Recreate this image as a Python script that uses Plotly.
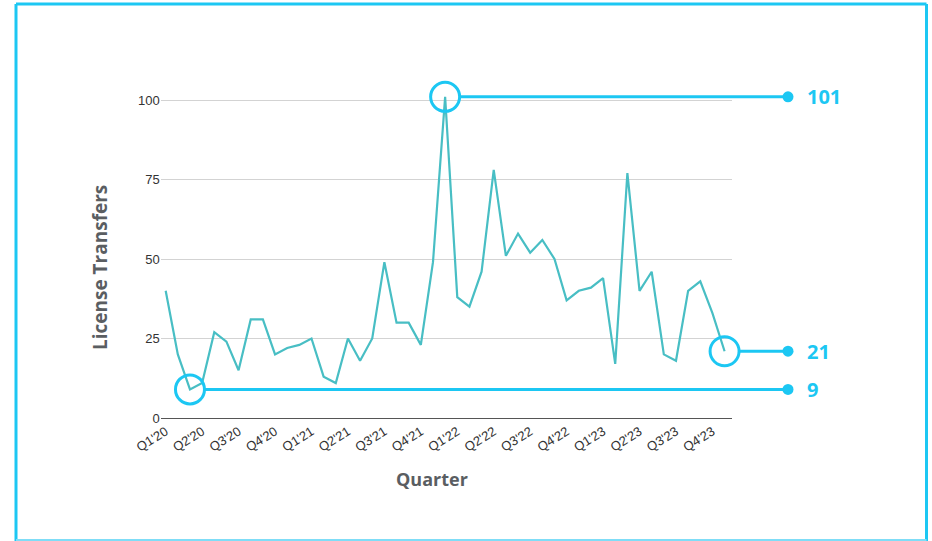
import plotly.graph_objects as go

# ---------------- data ----------------
quarters = ["Q1'20", "Q2'20", "Q3'20", "Q4'20", "Q1'21", "Q2'21", "Q3'21", "Q4'21",
            "Q1'22", "Q2'22", "Q3'22", "Q4'22", "Q1'23", "Q2'23", "Q3'23", "Q4'23"]
month_names = ["Jan", "Feb", "Mar", "Apr", "May", "Jun", "Jul", "Aug", "Sep", "Oct", "Nov", "Dec"]
years = ["20", "21", "22", "23"]
months = [f"{m}'{y}" for y in years for m in month_names][:47]

transfers = [40, 20, 9, 11, 27, 24, 15, 31, 31, 20, 22, 23,
             25, 13, 11, 25, 18, 25, 49, 30, 30, 23, 49, 101,
             38, 35, 46, 78, 51, 58, 52, 56, 50, 37, 40, 41,
             44, 17, 77, 40, 46, 20, 18, 40, 43, 33, 21]

# highlighted points: minimum, maximum, latest
idx_min = transfers.index(min(transfers))
idx_max = transfers.index(max(transfers))
idx_last = len(transfers) - 1
callouts = [idx_max, idx_last, idx_min]

# ---------------- layout geometry (pixels of a 932x541 page) ----------------
W, H = 932, 541
PX_LEFT, PX_RIGHT = 160.7, 731.7
PX_TOP, PX_BOTTOM = 68.2, 418.0
X_MIN = -0.41
UNIT = 12.15  # px per month
X_MAX = X_MIN + (PX_RIGHT - PX_LEFT) / UNIT
X2_MAX = X_MIN + (W - PX_LEFT) / UNIT
Y_RANGE = [0, 110]

CIRCLE_R = 1.15          # in month units
CALLOUT_END = X_MIN + (788 - PX_LEFT) / UNIT
LABEL_X = X_MIN + (805 - PX_LEFT) / UNIT

LINE_COLOR = "#48BEC4"
CYAN = "#1CC7F3"
GRAY_TITLE = "#5A5E62"
TITLE_FONT = "Open Sans"

xdom = [PX_LEFT / W, PX_RIGHT / W]
x2dom = [PX_LEFT / W, 1.0]
ydom = [1 - PX_BOTTOM / H, 1 - PX_TOP / H]

fig = go.Figure()

fig.add_trace(go.Scatter(
    x=months, y=transfers, mode="lines",
    line=dict(color=LINE_COLOR, width=2.2),
    xaxis="x", yaxis="y", hoverinfo="x+y", showlegend=False,
))

# callout lines, dots and circles (drawn on an overlay subplot sharing the same scale)
for i in callouts:
    v = transfers[i]
    fig.add_trace(go.Scatter(
        x=[i + CIRCLE_R, CALLOUT_END], y=[v, v], mode="lines",
        line=dict(color=CYAN, width=3), xaxis="x2", yaxis="y2",
        showlegend=False, hoverinfo="skip",
    ))
    fig.add_trace(go.Scatter(
        x=[CALLOUT_END], y=[v], mode="markers",
        marker=dict(color=CYAN, size=11, symbol="circle"),
        xaxis="x2", yaxis="y2", showlegend=False, hoverinfo="skip",
    ))
    fig.add_trace(go.Scatter(
        x=[i], y=[v], mode="markers",
        marker=dict(color=CYAN, size=29, symbol="circle-open", line=dict(width=3, color=CYAN)),
        xaxis="x2", yaxis="y2", showlegend=False, hoverinfo="skip",
        cliponaxis=False,
    ))
    fig.add_annotation(
        x=LABEL_X, y=v, xref="x2", yref="y2", text=f"<b>{v}</b>",
        showarrow=False, xanchor="left", yanchor="middle",
        font=dict(family=TITLE_FONT, size=20, color=CYAN),
    )

fig.update_layout(
    width=W, height=H,
    margin=dict(l=0, r=0, t=0, b=0, autoexpand=False),
    paper_bgcolor="white",
    plot_bgcolor="rgba(0,0,0,0)",
    showlegend=False,
    xaxis=dict(
        domain=xdom, type="category", categoryorder="array", categoryarray=months,
        range=[X_MIN, X_MAX], tickmode="array", tickvals=months[::3], ticktext=quarters,
        tickangle=-32, tickfont=dict(family="Liberation Sans, Arial", size=13, color="#333333"),
        showgrid=False, showline=True, linecolor="#555555", linewidth=1.3,
        ticks="", anchor="y", fixedrange=True, automargin=False,
    ),
    yaxis=dict(
        domain=ydom, range=Y_RANGE, tickvals=[0, 25, 50, 75, 100],
        tickfont=dict(family="Liberation Sans, Arial", size=13, color="#333333"),
        showgrid=True, gridcolor="#D3D3D3", gridwidth=1, zeroline=False,
        showline=False, ticks="", anchor="x", fixedrange=True, automargin=False,
    ),
    xaxis2=dict(
        domain=x2dom, range=[X_MIN, X2_MAX], visible=False, anchor="y2", fixedrange=True,
    ),
    yaxis2=dict(
        domain=ydom, range=Y_RANGE, visible=False, anchor="x2", fixedrange=True,
    ),
)

# axis titles
fig.add_annotation(
    x=100 / W, y=1 - 268 / H, xref="paper", yref="paper", text="<b>License Transfers</b>",
    textangle=-90, showarrow=False, xanchor="center", yanchor="middle",
    font=dict(family=TITLE_FONT, size=19, color=GRAY_TITLE),
)
fig.add_annotation(
    x=432 / W, y=1 - 479 / H, xref="paper", yref="paper", text="<b>Quarter</b>",
    showarrow=False, xanchor="center", yanchor="middle",
    font=dict(family=TITLE_FONT, size=18, color=GRAY_TITLE),
)

# frame
for x0, y0, x1, y1, col, wdt in [
    (16, 4, 926.5, 4, CYAN, 3),
    (16, 4, 16, 541, CYAN, 3),
    (926.5, 4, 926.5, 541, CYAN, 3),
    (16, 540, 926.5, 540, "#7FDDF7", 2),
]:
    fig.add_shape(type="line", xref="paper", yref="paper",
                  x0=x0 / W, x1=x1 / W, y0=1 - y0 / H, y1=1 - y1 / H,
                  line=dict(color=col, width=wdt), layer="above")

fig.write_html("out.html")
